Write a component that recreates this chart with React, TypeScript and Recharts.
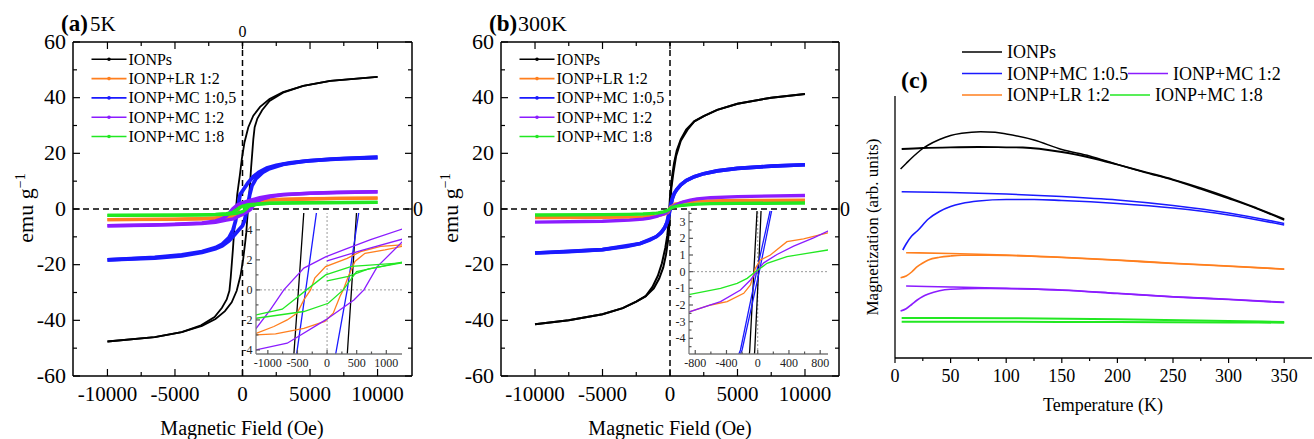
import React from 'react';
import { LineChart, Line, XAxis, YAxis, ReferenceLine } from 'recharts';

type P = [number, number];
const FONT = '"Liberation Serif", "Times New Roman", serif';

// ---------- Panel (a) 5 K : H (Oe), M (emu/g). Descending branch then ascending branch ----------
const A_IONPS_DESC: P[] = [[10000,47.5],[6500,46],[4500,44.2],[3000,42],[2000,39.5],[1300,36.7],[800,33.5],[430,29.4],[150,24],[-50,18],[-200,12],[-300,8.5],[-392,5.2],[-483,0],[-561,-4.3],[-640,-9.5],[-710,-14.5],[-790,-19.5],[-870,-24.5],[-970,-29.4],[-1170,-32.5],[-1520,-35.5],[-2070,-38.8],[-3070,-41.8],[-4500,-44.2],[-6500,-46],[-10000,-47.6]];
const A_IONPS_ASC: P[] = [[-10000,-47.6],[-6500,-46],[-4500,-44.2],[-3000,-42],[-2000,-39.5],[-1300,-36.7],[-800,-33.5],[-430,-29.4],[-150,-24],[50,-18],[200,-12],[280,-8.5],[341,-4.3],[412,0],[498,5.2],[570,10],[640,15],[720,20],[800,25],[900,29.4],[1100,32.5],[1450,35.5],[2000,38.8],[3000,41.8],[4500,44.2],[6500,46],[10000,47.5]];
const A_BLUE_DESC: P[] = [[10000,18.5],[7500,18.1],[5000,17.4],[3500,16.6],[2500,15.7],[1800,14.7],[1200,13.2],[800,11.6],[400,9.4],[100,7.2],[-177,5.2],[-346,0.4],[-515,-4.3],[-700,-7.5],[-1000,-10.3],[-1500,-12.6],[-2000,-13.9],[-3000,-15.3],[-4500,-16.5],[-6500,-17.4],[-10000,-18.3]];
const A_BLUE_ASC: P[] = [[-10000,-18.3],[-6500,-17.6],[-4500,-16.8],[-3000,-15.6],[-2000,-14.3],[-1500,-13.2],[-1000,-11.4],[-600,-9.3],[-300,-7.6],[0,-6],[144,-4.3],[340,0],[537,5.2],[700,8.3],[1000,10.9],[1500,13.2],[2000,14.5],[3000,16],[4500,17.1],[6500,17.9],[10000,18.6]];
const A_PURPLE_DESC: P[] = [[10000,6.2],[7000,6.0],[5000,5.7],[3000,5.2],[2000,4.7],[1270,4.05],[735,3.35],[300,2.7],[-25,2.2],[-392,1.45],[-730,0],[-954,-1.3],[-1196,-2.55],[-1500,-3.5],[-2000,-4.3],[-3000,-5.0],[-5000,-5.5],[-7000,-5.8],[-10000,-6.0]];
const A_PURPLE_ASC: P[] = [[-10000,-6.0],[-5000,-5.6],[-3000,-5.2],[-2000,-4.8],[-1200,-4.0],[-673,-3.55],[-25,-2.0],[453,-0.67],[622,0],[848,1.55],[1270,3.2],[1600,3.9],[2000,4.4],[3000,5.1],[5000,5.7],[10000,6.2]];
const A_PURPLE_VIRGIN: P[] = [[0,1.93],[600,2.65],[1270,3.38],[2000,4.3]];
const A_ORANGE_DESC: P[] = [[10000,3.9],[7000,3.8],[5000,3.6],[3000,3.4],[2000,3.2],[1270,3.0],[904,2.9],[565,2.55],[340,2.1],[-25,1.55],[-208,0.78],[-279,0],[-392,-0.67],[-505,-1.55],[-673,-2.0],[-898,-2.44],[-1196,-2.9],[-2000,-3.3],[-3000,-3.5],[-5000,-3.7],[-10000,-3.8]];
const A_ORANGE_ASC: P[] = [[-10000,-3.8],[-5000,-3.65],[-3000,-3.45],[-2000,-3.2],[-1200,-3.0],[-870,-2.93],[-392,-2.56],[-37,-2.1],[104,-1.55],[217,-0.44],[273,0],[358,0.89],[471,1.89],[640,2.44],[978,2.67],[1270,2.9],[2000,3.3],[3000,3.5],[5000,3.7],[10000,3.9]];
const A_GREEN_DESC: P[] = [[10000,2.4],[5000,2.25],[3000,2.1],[2000,2.0],[1270,1.8],[414,1.56],[-25,1.0],[-346,0],[-757,-1.29],[-1196,-1.67],[-2000,-1.95],[-3000,-2.1],[-5000,-2.2],[-10000,-2.3]];
const A_GREEN_ASC: P[] = [[-10000,-2.3],[-5000,-2.2],[-3000,-2.1],[-2000,-2.0],[-1196,-1.89],[-392,-1.44],[20,-0.89],[273,0],[498,1.22],[1270,1.85],[2000,2.1],[3000,2.2],[5000,2.3],[10000,2.4]];
const A_GREEN_VIRGIN: P[] = [[0,0.6],[360,0.9],[700,1.4],[1270,1.8]];

// ---------- Panel (b) 300 K ----------
const B_IONPS_DESC: P[] = [[10000,41.3],[7500,40],[5000,37.8],[3500,35.6],[2500,33.4],[1800,31.5],[1200,28.5],[800,25],[500,21],[300,16.5],[150,11.5],[50,6.5],[-8,3.7],[-55,-0.5],[-102,-4.7],[-200,-9.5],[-350,-14],[-600,-19.5],[-900,-24],[-1300,-28],[-1800,-31.3],[-2500,-33.3],[-3500,-35.6],[-5000,-37.8],[-7500,-40],[-10000,-41.4]];
const B_IONPS_ASC: P[] = [[-10000,-41.4],[-7500,-40],[-5000,-37.8],[-3500,-35.6],[-2500,-33.3],[-1800,-31.3],[-1200,-28.5],[-800,-25],[-500,-21],[-300,-16.5],[-150,-11.5],[-90,-8.5],[-38,-4.7],[5,-0.5],[43,3.7],[100,7.5],[250,13],[450,19],[800,24.5],[1300,28.5],[1800,31.5],[2500,33.4],[3500,35.6],[5000,37.8],[7500,40],[10000,41.3]];
const B_BLUE_DESC: P[] = [[10000,15.9],[7500,15.4],[5000,14.6],[3500,13.7],[2500,12.7],[1800,11.6],[1200,10.2],[800,8.7],[500,7],[300,5.5],[161,3.7],[0,0.3],[-221,-4.7],[-400,-6.8],[-700,-8.7],[-1000,-9.9],[-1500,-11.2],[-2200,-12.4],[-3200,-13.5],[-5000,-14.6],[-7500,-15.3],[-10000,-15.8]];
const B_BLUE_ASC: P[] = [[-10000,-15.8],[-5000,-14.6],[-2200,-12.4],[-1000,-9.9],[-600,-8.2],[-380,-6.6],[-200,-4.7],[20,0],[180,3.7],[320,5.6],[500,7],[800,8.7],[1200,10.2],[1800,11.6],[2500,12.7],[3500,13.7],[5000,14.6],[7500,15.4],[10000,15.9]];
const B_PURPLE: P[] = [[-10000,-4.75],[-5000,-4.4],[-3000,-4.0],[-2000,-3.6],[-1500,-3.3],[-1000,-2.7],[-867,-2.4],[-476,-1.8],[-221,-1.1],[-93,-0.5],[-8,0.03],[77,0.53],[247,1.03],[460,1.53],[715,2.03],[898,2.43],[1000,2.6],[1500,3.2],[2000,3.6],[3000,4.05],[5000,4.45],[10000,4.85]];
const B_ORANGE: P[] = [[-10000,-3.1],[-5000,-3.0],[-3000,-2.9],[-2000,-2.8],[-1000,-2.55],[-867,-2.4],[-603,-2.0],[-391,-1.8],[-179,-1.3],[-93,-0.8],[-30,0.2],[34,0.7],[162,1.0],[374,1.8],[587,1.97],[898,2.33],[1000,2.45],[2000,2.8],[3000,2.95],[5000,3.05],[10000,3.15]];
const B_GREEN: P[] = [[-10000,-2.15],[-5000,-2.0],[-3000,-1.9],[-2000,-1.8],[-1500,-1.65],[-1000,-1.45],[-867,-1.36],[-476,-1.0],[-263,-0.7],[-135,-0.4],[-30,0],[34,0.2],[119,0.5],[374,0.9],[629,1.1],[898,1.3],[1000,1.35],[1500,1.6],[2000,1.75],[3000,1.9],[5000,2.0],[10000,2.15]];

// ---------- Panel (c) ZFC / FC : T (K), M (arb. units) ----------
const C_IONPS_ZFC: P[] = [[5,1.89],[10,1.945],[15,2.0],[20,2.05],[25,2.095],[30,2.13],[40,2.185],[50,2.225],[60,2.247],[77,2.263],[90,2.257],[100,2.24],[125,2.18],[150,2.085],[175,2.02],[200,1.935],[225,1.855],[250,1.78],[275,1.69],[300,1.595],[325,1.495],[350,1.38]];
const C_IONPS_FC: P[] = [[6,2.09],[25,2.1],[50,2.107],[75,2.11],[100,2.107],[115,2.105],[150,2.06],[175,2.005],[200,1.935],[225,1.86],[250,1.785],[275,1.7],[300,1.605],[325,1.5],[350,1.39]];
const C_BLUE_ZFC: P[] = [[7,1.08],[10,1.14],[15,1.22],[20,1.27],[30,1.39],[40,1.465],[50,1.515],[60,1.545],[75,1.57],[100,1.585],[125,1.585],[150,1.575],[200,1.545],[250,1.5],[300,1.43],[350,1.33]];
const C_BLUE_FC: P[] = [[6,1.663],[50,1.655],[100,1.64],[150,1.615],[200,1.58],[250,1.525],[300,1.45],[350,1.345]];
const C_ORANGE_ZFC: P[] = [[5,0.803],[10,0.82],[15,0.86],[20,0.913],[25,0.95],[30,0.98],[40,1.007],[50,1.02],[60,1.027],[75,1.027],[100,1.025],[150,1.005],[200,0.978],[250,0.945],[300,0.918],[350,0.888]];
const C_ORANGE_FC: P[] = [[10,1.053],[50,1.045],[100,1.03],[150,1.007],[200,0.98],[250,0.947],[300,0.92],[350,0.89]];
const C_PURPLE_ZFC: P[] = [[5,0.47],[10,0.493],[15,0.535],[20,0.58],[25,0.615],[30,0.64],[40,0.673],[50,0.687],[75,0.695],[100,0.694],[150,0.678],[200,0.645],[250,0.611],[300,0.585],[350,0.555]];
const C_PURPLE_FC: P[] = [[10,0.72],[50,0.71],[100,0.697],[150,0.68],[200,0.647],[250,0.613],[300,0.587],[350,0.557]];
const C_GREEN_ZFC: P[] = [[6,0.363],[100,0.362],[200,0.36],[300,0.356],[350,0.353]];
const C_GREEN_FC: P[] = [[6,0.4],[100,0.397],[200,0.387],[300,0.37],[350,0.36]];

// ---------- Ticks ----------
const X_MAJ_MAIN = [-10000, -5000, 0, 5000, 10000];
const X_MIN_MAIN = [-7500, -2500, 2500, 7500];
const Y_MAJ_MAIN = [-60, -40, -20, 0, 20, 40, 60];
const Y_MIN_MAIN = [-50, -30, -10, 10, 30, 50];
const XA_INSET_MAJ = [-1000, -500, 0, 500, 1000];
const XA_INSET_MIN = [-750, -250, 250, 750];
const YA_INSET_MAJ = [-4, -2, 0, 2, 4];
const YA_INSET_MIN = [-3, -1, 1, 3];
const XB_INSET_MAJ = [-800, -400, 0, 400, 800];
const XB_INSET_MIN = [-600, -200, 200, 600];
const YB_INSET_MAJ = [-4, -3, -2, -1, 0, 1, 2, 3];
const YB_INSET_MIN = [-4.5, -3.5, -2.5, -1.5, -0.5, 0.5, 1.5, 2.5, 3.5];
const XC_MAJ = [0, 50, 100, 150, 200, 250, 300, 350];
const XC_MIN = [25, 75, 125, 175, 225, 275, 325];

const LEGEND_AB = ['IONPs', 'IONP+LR 1:2', 'IONP+MC 1:0,5', 'IONP+MC 1:2', 'IONP+MC 1:8'];

const K = '#000000';
const OR = '#ff7f1e';
const BL = '#1a1aff';
const PU = '#8b1cff';
const GR = '#22e822';
const LEG_COLORS = [K, OR, BL, PU, GR];

const pts = (a: P[]) => a.map(([h, m]) => ({ h, m }));
const merge = (a: number[], b: number[]) => [...a, ...b].sort((x, y) => x - y);

type TickOpts = {
  side: 'bottom' | 'top' | 'left' | 'right';
  inward: boolean;
  major: number[];
  majorLen: number;
  minorLen: number;
  show: (v: number) => boolean;
  fontSize: number;
  offset: number;
  base: number;
  stroke?: string;
  fill?: string;
};

function makeTick(o: TickOpts) {
  return (p: any) => {
    const v = p.payload.value;
    const x = p.x;
    const y = p.y;
    const isMaj = o.major.some((m) => Math.abs(m - v) < 1e-9);
    const len = isMaj ? o.majorLen : o.minorLen;
    const d = o.inward ? -1 : 1;
    const st = o.stroke || '#000';
    let ln: any;
    let tx = x;
    let ty = y;
    let anchor: any = 'middle';
    if (o.side === 'bottom') {
      ln = <line x1={x} x2={x} y1={y} y2={y + d * len} stroke={st} strokeWidth={1.2} />;
      ty = y + o.offset;
    } else if (o.side === 'top') {
      ln = <line x1={x} x2={x} y1={y} y2={y - d * len} stroke={st} strokeWidth={1.2} />;
      ty = y - o.offset;
    } else if (o.side === 'left') {
      ln = <line x1={x} x2={x - d * len} y1={y} y2={y} stroke={st} strokeWidth={1.2} />;
      tx = x - o.offset;
      ty = y + o.base;
      anchor = 'end';
    } else {
      ln = <line x1={x} x2={x + d * len} y1={y} y2={y} stroke={st} strokeWidth={1.2} />;
      tx = x + o.offset;
      ty = y + o.base;
      anchor = 'start';
    }
    return (
      <g>
        {ln}
        {isMaj && o.show(v) ? (
          <text x={tx} y={ty} textAnchor={anchor} fontFamily={FONT} fontSize={o.fontSize} fill={o.fill || '#000'}>
            {String(v)}
          </text>
        ) : null}
      </g>
    );
  };
}

type Series = { id: string; data: P[]; color: string; w: number };

const A_MAIN: Series[] = [
  { id: 'ai1', data: A_IONPS_DESC, color: K, w: 1.8 },
  { id: 'ai2', data: A_IONPS_ASC, color: K, w: 1.8 },
  { id: 'ab1', data: A_BLUE_DESC, color: BL, w: 3.8 },
  { id: 'ab2', data: A_BLUE_ASC, color: BL, w: 3.8 },
  { id: 'ao1', data: A_ORANGE_DESC, color: OR, w: 3.3 },
  { id: 'ao2', data: A_ORANGE_ASC, color: OR, w: 3.3 },
  { id: 'ap1', data: A_PURPLE_DESC, color: PU, w: 3.5 },
  { id: 'ap2', data: A_PURPLE_ASC, color: PU, w: 3.5 },
  { id: 'ap3', data: A_PURPLE_VIRGIN, color: PU, w: 3.5 },
  { id: 'ag1', data: A_GREEN_DESC, color: GR, w: 3.3 },
  { id: 'ag2', data: A_GREEN_ASC, color: GR, w: 3.3 },
  { id: 'ag3', data: A_GREEN_VIRGIN, color: GR, w: 3.3 },
];
const B_MAIN: Series[] = [
  { id: 'bi1', data: B_IONPS_DESC, color: K, w: 2 },
  { id: 'bi2', data: B_IONPS_ASC, color: K, w: 2 },
  { id: 'bb1', data: B_BLUE_DESC, color: BL, w: 3.6 },
  { id: 'bb2', data: B_BLUE_ASC, color: BL, w: 3.6 },
  { id: 'bo', data: B_ORANGE, color: OR, w: 3.3 },
  { id: 'bp', data: B_PURPLE, color: PU, w: 3.3 },
  { id: 'bg', data: B_GREEN, color: GR, w: 3.3 },
];
const C_SERIES: Series[] = [
  { id: 'c1', data: C_IONPS_ZFC, color: K, w: 1.5 },
  { id: 'c2', data: C_IONPS_FC, color: K, w: 1.8 },
  { id: 'c3', data: C_BLUE_ZFC, color: BL, w: 1.6 },
  { id: 'c4', data: C_BLUE_FC, color: BL, w: 1.6 },
  { id: 'c5', data: C_ORANGE_ZFC, color: OR, w: 1.6 },
  { id: 'c6', data: C_ORANGE_FC, color: OR, w: 1.6 },
  { id: 'c7', data: C_PURPLE_ZFC, color: PU, w: 1.6 },
  { id: 'c8', data: C_PURPLE_FC, color: PU, w: 1.6 },
  { id: 'c9', data: C_GREEN_ZFC, color: GR, w: 2 },
  { id: 'c10', data: C_GREEN_FC, color: GR, w: 2 },
];

function MainPanel(props: {
  left: number; width: number; yW: number; rW: number; xDomain: [number, number];
  series: Series[]; topZero: boolean;
}) {
  const { left, width, yW, rW, xDomain, series, topZero } = props;
  const xt = merge(X_MAJ_MAIN, X_MIN_MAIN);
  const yt = merge(Y_MAJ_MAIN, Y_MIN_MAIN);
  const axisLine = { stroke: '#000', strokeWidth: 1.5 };
  return (
    <div style={{ position: 'absolute', left, top: 0, width, height: 439 }}>
      <LineChart width={width} height={439} margin={{ top: 0, right: 0, bottom: 0, left: 0 }}>
        <XAxis xAxisId="b" dataKey="h" type="number" domain={xDomain} ticks={xt} interval={0} height={63}
          allowDataOverflow tickLine={false} tickSize={0} tickMargin={0} axisLine={axisLine}
          tick={makeTick({ side: 'bottom', inward: true, major: X_MAJ_MAIN, majorLen: 7, minorLen: 4, show: () => true, fontSize: 21, offset: 25, base: 0 })} />
        <XAxis xAxisId="t" orientation="top" dataKey="h" type="number" domain={xDomain} ticks={xt} interval={0} height={42}
          allowDataOverflow tickLine={false} tickSize={0} tickMargin={0} axisLine={axisLine}
          tick={makeTick({ side: 'top', inward: true, major: X_MAJ_MAIN, majorLen: 7, minorLen: 4, show: (v) => topZero && v === 0, fontSize: 16, offset: 5, base: 0 })} />
        <YAxis yAxisId="l" type="number" domain={[-60, 60]} ticks={yt} interval={0} width={yW}
          allowDataOverflow tickLine={false} tickSize={0} tickMargin={0} axisLine={axisLine}
          tick={makeTick({ side: 'left', inward: true, major: Y_MAJ_MAIN, majorLen: 7, minorLen: 4, show: () => true, fontSize: 22, offset: 7, base: 6.5 })} />
        <YAxis yAxisId="r" orientation="right" type="number" domain={[-60, 60]} ticks={yt} interval={0} width={rW}
          allowDataOverflow tickLine={false} tickSize={0} tickMargin={0} axisLine={axisLine}
          tick={makeTick({ side: 'right', inward: true, major: Y_MAJ_MAIN, majorLen: 7, minorLen: 4, show: (v) => v === 0, fontSize: 20, offset: 1, base: 7 })} />
        <ReferenceLine xAxisId="b" yAxisId="l" x={0} stroke="#000" strokeWidth={1.5} strokeDasharray="6 4" />
        <ReferenceLine xAxisId="b" yAxisId="l" y={0} stroke="#000" strokeWidth={1.5} strokeDasharray="6 4" />
        {series.map((s) => (
          <Line key={s.id} xAxisId="b" yAxisId="l" data={pts(s.data)} dataKey="m" type="linear"
            stroke={s.color} strokeWidth={s.w} dot={false} isAnimationActive={false} />
        ))}
      </LineChart>
    </div>
  );
}

function Inset(props: {
  left: number; top: number; width: number; height: number; yW: number; mr: number; mt: number;
  xDomain: [number, number]; yDomain: [number, number];
  xMaj: number[]; xMin: number[]; yMaj: number[]; yMin: number[]; series: Series[];
}) {
  const p = props;
  const xt = merge(p.xMaj, p.xMin);
  const yt = merge(p.yMaj, p.yMin);
  const al = { stroke: '#7a7a7a', strokeWidth: 1.3 };
  const tk = '#555';
  return (
    <div style={{ position: 'absolute', left: p.left, top: p.top, width: p.width, height: p.height }}>
      <LineChart width={p.width} height={p.height} margin={{ top: p.mt, right: p.mr, bottom: 0, left: 0 }}>
        <XAxis xAxisId="b" dataKey="h" type="number" domain={p.xDomain} ticks={xt} interval={0} height={21}
          allowDataOverflow tickLine={false} tickSize={0} tickMargin={0} axisLine={al}
          tick={makeTick({ side: 'bottom', inward: true, major: p.xMaj, majorLen: 4, minorLen: 2.5, show: () => true, fontSize: 12, offset: 12.5, base: 0, stroke: tk, fill: '#222' })} />
        <XAxis xAxisId="t" orientation="top" dataKey="h" type="number" domain={p.xDomain} ticks={xt} interval={0} height={0}
          allowDataOverflow tickLine={false} tickSize={0} tickMargin={0} axisLine={al}
          tick={makeTick({ side: 'top', inward: true, major: p.xMaj, majorLen: 4, minorLen: 2.5, show: () => false, fontSize: 12, offset: 0, base: 0, stroke: tk })} />
        <YAxis yAxisId="l" type="number" domain={p.yDomain} ticks={yt} interval={0} width={p.yW}
          allowDataOverflow tickLine={false} tickSize={0} tickMargin={0} axisLine={al}
          tick={makeTick({ side: 'left', inward: true, major: p.yMaj, majorLen: 4, minorLen: 2.5, show: () => true, fontSize: 12, offset: 3.5, base: 4, stroke: tk, fill: '#222' })} />
        <YAxis yAxisId="r" orientation="right" type="number" domain={p.yDomain} ticks={yt} interval={0} width={0}
          allowDataOverflow tickLine={false} tickSize={0} tickMargin={0} axisLine={al}
          tick={makeTick({ side: 'right', inward: true, major: p.yMaj, majorLen: 4, minorLen: 2.5, show: () => false, fontSize: 12, offset: 0, base: 0, stroke: tk })} />
        <ReferenceLine xAxisId="b" yAxisId="l" x={0} stroke="#9a9a9a" strokeWidth={1} strokeDasharray="2 2" />
        <ReferenceLine xAxisId="b" yAxisId="l" y={0} stroke="#9a9a9a" strokeWidth={1} strokeDasharray="2 2" />
        {p.series.map((s) => (
          <Line key={s.id} xAxisId="b" yAxisId="l" data={pts(s.data)} dataKey="m" type="linear"
            stroke={s.color} strokeWidth={1.3} dot={false} isAnimationActive={false} />
        ))}
      </LineChart>
    </div>
  );
}

function PanelC() {
  const xt = merge(XC_MAJ, XC_MIN);
  const al = { stroke: '#000', strokeWidth: 1.3 };
  return (
    <div style={{ position: 'absolute', left: 860, top: 0, width: 454, height: 439 }}>
      <LineChart width={454} height={439} margin={{ top: 96, right: 2, bottom: 0, left: 0 }}>
        <XAxis dataKey="h" type="number" domain={[0, 375]} ticks={xt} interval={0} height={81}
          allowDataOverflow tickLine={false} tickSize={0} tickMargin={0} axisLine={al}
          tick={makeTick({ side: 'bottom', inward: false, major: XC_MAJ, majorLen: 5, minorLen: 3, show: () => true, fontSize: 18, offset: 24, base: 0 })} />
        <YAxis type="number" domain={[0, 2.62]} width={35} allowDataOverflow tick={false} tickLine={false} axisLine={al} />
        {C_SERIES.map((s) => (
          <Line key={s.id} data={pts(s.data)} dataKey="m" type="monotone"
            stroke={s.color} strokeWidth={s.w} dot={false} isAnimationActive={false} />
        ))}
      </LineChart>
    </div>
  );
}

function LegendAB({ x0, y0 }: { x0: number; y0: number }) {
  return (
    <g>
      {LEGEND_AB.map((name, i) => {
        const y = y0 + i * 19.3;
        return (
          <g key={name}>
            <line x1={x0} x2={x0 + 35} y1={y} y2={y} stroke={LEG_COLORS[i]} strokeWidth={1.6} />
            <circle cx={x0 + 17.5} cy={y} r={1.8} fill={LEG_COLORS[i]} />
            <text x={x0 + 37} y={y + 5.5} fontFamily={FONT} fontSize={16} fill="#000">{name}</text>
          </g>
        );
      })}
    </g>
  );
}

function Overlay() {
  const legC: { x: number; y: number; c: string; t: string }[] = [
    { x: 962, y: 52, c: K, t: 'IONPs' },
    { x: 962, y: 73.5, c: BL, t: 'IONP+MC 1:0.5' },
    { x: 1128, y: 73.5, c: PU, t: 'IONP+MC 1:2' },
    { x: 962, y: 95, c: OR, t: 'IONP+LR 1:2' },
    { x: 1110, y: 95, c: GR, t: 'IONP+MC 1:8' },
  ];
  return (
    <svg width={1314} height={439} style={{ position: 'absolute', left: 0, top: 0, pointerEvents: 'none' }}>
      <text x={61} y={31} fontFamily={FONT} fontSize={23} fontWeight="bold">(a)</text>
      <text x={90} y={31} fontFamily={FONT} fontSize={21}>5K</text>
      <text x={489} y={31} fontFamily={FONT} fontSize={23} fontWeight="bold">(b)</text>
      <text x={518} y={31} fontFamily={FONT} fontSize={22}>300K</text>
      <text x={901} y={88} fontFamily={FONT} fontSize={24} fontWeight="bold">(c)</text>
      <LegendAB x0={91.5} y0={59.3} />
      <LegendAB x0={519.5} y0={59.3} />
      {legC.map((l) => (
        <g key={l.t}>
          <line x1={l.x} x2={l.x + 40} y1={l.y} y2={l.y} stroke={l.c} strokeWidth={1.6} />
          <text x={l.x + 45} y={l.y + 6} fontFamily={FONT} fontSize={18}>{l.t}</text>
        </g>
      ))}
      <text transform="translate(33,208) rotate(-90)" textAnchor="middle" fontFamily={FONT} fontSize={22}>
        emu g<tspan dy={-8} fontSize={14}>−1</tspan>
      </text>
      <text transform="translate(458,208) rotate(-90)" textAnchor="middle" fontFamily={FONT} fontSize={22}>
        emu g<tspan dy={-8} fontSize={14}>−1</tspan>
      </text>
      <text x={242} y={435} textAnchor="middle" fontFamily={FONT} fontSize={20}>Magnetic Field (Oe)</text>
      <text x={670} y={435} textAnchor="middle" fontFamily={FONT} fontSize={20}>Magnetic Field (Oe)</text>
      <text x={1103} y={411} textAnchor="middle" fontFamily={FONT} fontSize={18}>Temperature (K)</text>
      <text transform="translate(878,227) rotate(-90)" textAnchor="middle" fontFamily={FONT} fontSize={17}>Magnetization (arb. units)</text>
    </svg>
  );
}

const A_INSET: Series[] = A_MAIN.map((s) => ({ ...s, w: 1.3 }));
const B_INSET: Series[] = B_MAIN.map((s) => ({ ...s, w: 1.3 }));

export default function App() {
  return (
    <div style={{ position: 'absolute', left: 0, top: 0, width: 1314, height: 439, background: '#fff', fontFamily: FONT, overflow: 'hidden' }}>
      <MainPanel left={0} width={440} yW={73} rW={28} xDomain={[-12550, 12550]} series={A_MAIN} topZero={true} />
      <MainPanel left={440} width={440} yW={61} rW={41} xDomain={[-12520, 12520]} series={B_MAIN} topZero={false} />
      <PanelC />
      <Inset left={230} top={205} width={180} height={170} yW={26} mr={8} mt={8}
        xDomain={[-1200, 1265]} yDomain={[-4.27, 5.12]}
        xMaj={XA_INSET_MAJ} xMin={XA_INSET_MIN} yMaj={YA_INSET_MAJ} yMin={YA_INSET_MIN} series={A_INSET} />
      <Inset left={660} top={203} width={176} height={172} yW={29} mr={8} mt={8}
        xDomain={[-880, 900]} yDomain={[-4.94, 3.64]}
        xMaj={XB_INSET_MAJ} xMin={XB_INSET_MIN} yMaj={YB_INSET_MAJ} yMin={YB_INSET_MIN} series={B_INSET} />
      <Overlay />
    </div>
  );
}
